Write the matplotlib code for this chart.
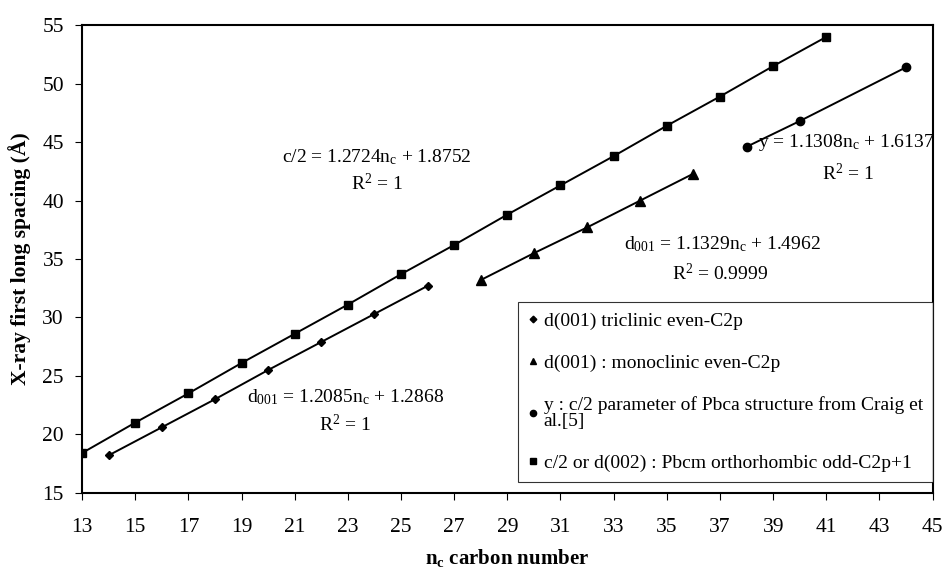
import matplotlib
matplotlib.use('Agg')
import matplotlib.pyplot as plt

plt.rcParams['font.family'] = ['Liberation Serif', 'DejaVu Serif']
plt.rcParams['mathtext.fontset'] = 'custom'
plt.rcParams['mathtext.rm'] = 'Liberation Serif'
plt.rcParams['mathtext.it'] = 'Liberation Serif:italic'
plt.rcParams['mathtext.bf'] = 'Liberation Serif:bold'

# data
tri_x = [14, 16, 18, 20, 22, 24, 26]
tri_y = [18.2, 20.6, 23.0, 25.5, 27.9, 30.3, 32.7]
mono_x = [28, 30, 32, 34, 36]
mono_y = [33.2, 35.5, 37.7, 40.0, 42.3]
pbca_x = [38, 40, 44]
pbca_y = [44.6, 46.8, 51.4]
odd_x = [13, 15, 17, 19, 21, 23, 25, 27, 29, 31, 33, 35, 37, 39, 41]
odd_y = [18.4, 21.0, 23.5, 26.1, 28.6, 31.1, 33.7, 36.2, 38.8, 41.3, 43.8, 46.4, 48.9, 51.5, 54.0]

labels = ['d(001) triclinic even-C2p',
          'd(001) : monoclinic even-C2p',
          'y : c/2 parameter of Pbca structure from Craig et\nal.[5]',
          'c/2 or d(002) : Pbcm orthorhombic odd-C2p+1']

fig = plt.figure(figsize=(9.43, 5.73), dpi=100)
ax = fig.add_axes([0.087, 0.140, 0.902, 0.816])

h1, = ax.plot(tri_x, tri_y, '-', color='black', lw=1.4, marker='D', ms=4.5)
h2, = ax.plot(mono_x, mono_y, '-', color='black', lw=1.4, marker='^', ms=6.5)
h3, = ax.plot(pbca_x, pbca_y, '-', color='black', lw=1.4, marker='o', ms=6)
h4, = ax.plot(odd_x, odd_y, '-', color='black', lw=1.4, marker='s', ms=6)

ax.set_xlim(13, 45)
ax.set_ylim(15, 55)
ax.set_xticks(range(13, 46, 2))
ax.set_yticks(range(15, 56, 5))
ax.tick_params(direction='out', length=5, width=0.8, labelsize=15.5)
ax.tick_params(axis='x', pad=13)
ax.tick_params(axis='y', pad=8)
for s in ax.spines.values():
    s.set_linewidth(1.5)

ax.set_xlabel('n$_\\mathbf{c}$ carbon number', fontsize=15, fontweight='bold', labelpad=7)
ax.set_ylabel('X-ray first long spacing (Å)', fontsize=15.5, fontweight='bold', labelpad=8)

fs = 14
ax.text(24.1, 43.7, 'c/2 = 1.2724n$_\\mathrm{c}$ + 1.8752', fontsize=fs, ha='center', va='center')
ax.text(24.1, 41.5, 'R$^\\mathrm{2}$ = 1', fontsize=fs, ha='center', va='center')
ax.text(22.9, 23.2, 'd$_\\mathrm{001}$ = 1.2085n$_\\mathrm{c}$ + 1.2868', fontsize=fs, ha='center', va='center')
ax.text(22.9, 20.8, 'R$^\\mathrm{2}$ = 1', fontsize=fs, ha='center', va='center')
ax.text(37.1, 36.3, 'd$_\\mathrm{001}$ = 1.1329n$_\\mathrm{c}$ + 1.4962', fontsize=fs, ha='center', va='center')
ax.text(37.0, 33.8, 'R$^\\mathrm{2}$ = 0.9999', fontsize=fs, ha='center', va='center')
ax.text(41.75, 45.0, 'y = 1.1308n$_\\mathrm{c}$ + 1.6137', fontsize=fs, ha='center', va='center')
ax.text(41.8, 42.35, 'R$^\\mathrm{2}$ = 1', fontsize=fs, ha='center', va='center')

leg = ax.legend([h1, h2, h3, h4], labels, loc='lower right', bbox_to_anchor=(1.0, 0.0235),
                borderaxespad=0, fontsize=14, frameon=True, fancybox=False, edgecolor='black',
                handlelength=0.5, handletextpad=0.3, labelspacing=1.25,
                borderpad=0.5, markerscale=0.75)
for lh in leg.legend_handles:
    lh.set_linestyle('None')
for t in leg.get_texts():
    t.set_linespacing(0.95)
leg.get_frame().set_linewidth(0.8)

fig.savefig('out.png', dpi=100)
